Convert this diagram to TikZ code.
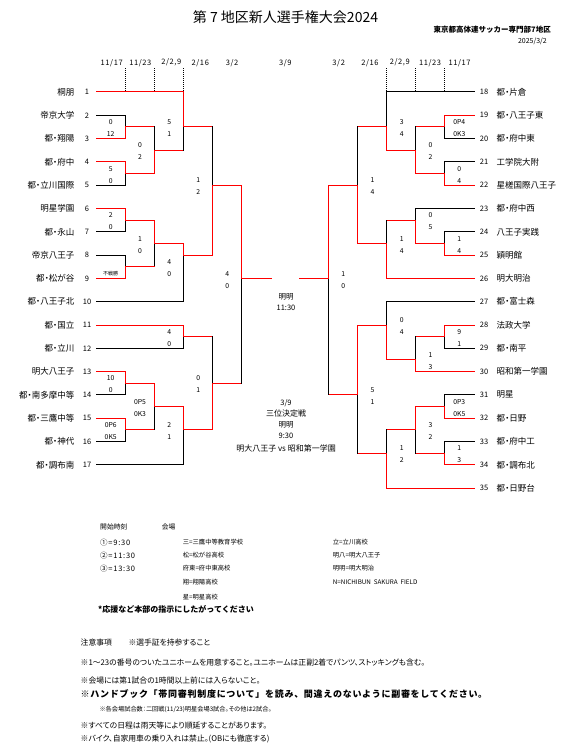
\documentclass[tikz,border=0pt]{standalone}
\usepackage{fontspec}
\setmainfont{Noto Sans CJK JP}
\newfontfamily\jpls[LetterSpace=8]{Noto Sans CJK JP}
\newfontfamily\jpp[RawFeature=+palt]{Noto Sans CJK JP}
\newcommand\yy[1]{92+11.65*#1}
\tikzset{
  ln/.style={line width=1pt, line cap=rect},
  win/.style={ln, draw=red},
  lose/.style={ln, draw=black},
  dotln/.style={line width=0.8pt, dash pattern=on 1pt off 1pt},
  tname/.style={font=\jpp\fontsize{8.5}{9}\selectfont, inner sep=0pt},
  tnum/.style={font=\fontsize{7.5}{8}\selectfont, inner sep=0pt},
  sc/.style={font=\fontsize{6.8}{7}\selectfont, inner sep=0pt},
  tiny/.style={font=\fontsize{5}{5}\selectfont, inner sep=0pt},
  datef/.style={font=\jpls\fontsize{7.5}{8}\selectfont, inner sep=0pt},
  ctr/.style={font=\fontsize{7.5}{8}\selectfont, inner sep=0pt},
  ctrb/.style={font=\fontsize{8}{9}\selectfont, inner sep=0pt},
  leg/.style={font=\fontsize{6.3}{7}\selectfont, inner sep=0pt, anchor=west},
  legh/.style={font=\fontsize{6.8}{7}\selectfont, inner sep=0pt, anchor=west},
  legt/.style={font=\fontsize{7.5}{8}\selectfont\addfontfeature{LetterSpace=10}, inner sep=0pt, anchor=west},
  note/.style={font=\jpp\fontsize{7.8}{8}\selectfont, inner sep=0pt, anchor=west},
}
\begin{document}
\begin{tikzpicture}[x=1pt,y=-1pt]
\useasboundingbox (0,0) rectangle (571,754);

% ---------- header ----------
\node[inner sep=0pt, font=\fontsize{14}{15}\selectfont] (title) at (285.5,16.7) {第 7 地区新人選手権大会2024};
\node[inner sep=0pt, anchor=east, font=\bfseries\fontsize{7.5}{8}\selectfont] (org) at (551,30) {東京都高体連サッカー専門部7地区};
\node[inner sep=0pt, anchor=east, font=\fontsize{7}{8}\selectfont] (date) at (547,41.7) {2025/3/2};

\node[datef] (d1) at (111.7,62.7) {11/17};
\node[datef] (d2) at (140.3,62.7) {11/23};
\node[datef] (d3) at (171.3,62.7) {2/2,9};
\node[datef] (d4) at (200.3,62.7) {2/16};
\node[datef] (d5) at (232,62.7) {3/2};
\node[datef] (d6) at (285.3,62.7) {3/9};
\node[datef] (d7) at (338.7,62.7) {3/2};
\node[datef] (d8) at (370,62.7) {2/16};
\node[datef] (d9) at (399.7,62.7) {2/2,9};
\node[datef] (d10) at (430,62.7) {11/23};
\node[datef] (d11) at (459.5,62.7) {11/17};

\foreach \xx in {125.3,154.5,183.5,386.2,415.3,444.6}
  \draw[dotln] (\xx,68.5) -- (\xx,92);

% ---------- left teams ----------
\foreach \nm/\e/\cc [count=\i from 0] in {桐朋/183.5/red, 帝京大学/125.3/black, 都・翔陽/125.3/red, 都・府中/125.3/red, 都・立川国際/125.3/black, 明星学園/125.3/red, 都・永山/125.3/black, 帝京八王子/125.3/black, 都・松が谷/125.3/red, 都・八王子北/183.5/black, 都・国立/183.5/red, 都・立川/183.5/black, 明大八王子/125.3/red, 都・南多摩中等/125.3/black, 都・三鷹中等/125.3/red, 都・神代/125.3/black, 都・調布南/183.5/black}{
  \pgfmathtruncatemacro\k{\i+1}
  \pgfmathsetmacro\yv{92+23.3*\i}
  \draw[ln, draw=\cc] (96,\yv) -- (\e,\yv);
  \node[tnum] (nL\k) at (87,\yv) {\k};
  \node[tname, anchor=east] (tL\k) at (74.5,\yv) {\nm};
}

% ---------- right teams ----------
\foreach \nm/\e/\cc [count=\i from 0] in {都・片倉/386.2/black, 都・八王子東/444.6/red, 都・府中東/444.6/black, 工学院大附/444.6/black, 星槎国際八王子/444.6/red, 都・府中西/415.3/black, 八王子実践/444.6/black, 穎明館/444.6/red, 明大明治/386.2/red, 都・富士森/386.2/black, 法政大学/444.6/red, 都・南平/444.6/black, 昭和第一学園/415.3/red, 明星/444.6/black, 都・日野/444.6/red, 都・府中工/444.6/black, 都・調布北/444.6/red, 都・日野台/386.2/red}{
  \pgfmathtruncatemacro\k{\i+18}
  \pgfmathsetmacro\yv{92+23.3*\i}
  \draw[ln, draw=\cc] (474,\yv) -- (\e,\yv);
  \node[tnum] (nR\k) at (484,\yv) {\k};
  \node[tname, anchor=west] (tR\k) at (496.5,\yv) {\nm};
}

% ---------- matches ----------
\foreach \x/\nx/\t/\b/\j/\ct/\cb/\sx/\sa/\sb [count=\q] in {
125.3/154.5/2/4/3/black/red/110.7/0/12,
125.3/154.5/6/8/7/red/black/110.7/5/0,
125.3/154.5/10/12/11/red/black/110.7/2/0,
125.3/154.5/24/26/25/red/black/110.7/10/0,
125.3/154.5/28/30/29/red/black/110.7/0P6/0K5,
154.5/183.5/3/7/5/black/red/140/0/2,
154.5/183.5/11/15/13/red/black/140/1/0,
154.5/183.5/25/29/27/red/black/140/0P5/0K3,
183.5/212.6/0/5/3/red/black/169.2/5/1,
183.5/212.6/20/22/21/red/black/169.2/4/0,
183.5/212.6/27/32/29/red/black/169.2/2/1,
212.6/241.7/3/14/8/black/red/198.2/1/2,
212.6/241.7/21/29/25/black/red/198.2/0/1,
241.7/271.7/8/25/16/red/black/227.2/4/0,
444.6/415.3/2/4/3/red/black/459.3/0P4/0K3,
444.6/415.3/6/8/7/black/red/459.3/0/4,
444.6/415.3/12/14/13/black/red/459.3/1/4,
444.6/415.3/20/22/21/red/black/459.3/9/1,
444.6/415.3/26/28/27/black/red/459.3/0P3/0K5,
444.6/415.3/30/32/31/black/red/459.3/1/3,
415.3/386.2/3/7/5/black/red/430.5/0/2,
415.3/386.2/10/13/11/black/red/430.5/0/5,
415.3/386.2/21/24/23/black/red/430.5/1/3,
415.3/386.2/27/31/29/red/black/430.5/3/2,
386.2/357.6/0/5/3/black/red/401.8/3/4,
386.2/357.6/11/16/13/black/red/401.8/1/4,
386.2/357.6/18/23/20/black/red/401.8/0/4,
386.2/357.6/29/34/31/black/red/401.8/1/2,
357.6/328.6/3/13/8/black/red/372.6/1/4,
357.6/328.6/20/31/26/red/black/372.6/5/1,
328.6/299/8/26/16/red/black/343.3/1/0}{
  \draw[ln, draw=\ct] (\x,\yy{\t}) -- (\x,\yy{\j});
  \draw[ln, draw=\cb] (\x,\yy{\j}) -- (\x,\yy{\b});
  \draw[win] (\x,\yy{\j}) -- (\nx,\yy{\j});
  \node[sc] (sa\q) at (\sx,\yy{\j}-4.7) {\sa};
  \node[sc] (sb\q) at (\sx,\yy{\j}+7.2) {\sb};
}
% special: 8 v 9 (walkover)
\draw[lose] (125.3,\yy{14}) -- (125.3,\yy{15});
\draw[win] (125.3,\yy{15}) -- (125.3,\yy{16});
\draw[win] (125.3,\yy{15}) -- (154.5,\yy{15});
\node[tiny] (wo) at (110.7,\yy{15}+6.5) {不戦勝};
% special: 6-9 winner v 10
\draw[win] (183.5,\yy{13}) -- (183.5,\yy{14});
\draw[lose] (183.5,\yy{14}) -- (183.5,\yy{18});
\draw[win] (183.5,\yy{14}) -- (212.6,\yy{14});
\node[sc] (sx1) at (169.2,262.3) {4};
\node[sc] (sx2) at (169.2,274) {0};

% ---------- centre texts ----------
\node[ctr] (f1) at (286,297.3) {明明};
\node[ctr] (f2) at (286,308.3) {11:30};
\node[ctr] (p1) at (286,402.7) {3/9};
\node[ctrb] (p2) at (286,413.5) {三位決定戦};
\node[ctr] (p3) at (286,425) {明明};
\node[ctr] (p4) at (286,436.2) {9:30};
\node[ctrb] (p5) at (286,448.3) {明大八王子 vs 昭和第一学園};

% ---------- legend ----------
\node[legh] (lg1) at (100,526.7) {開始時刻};
\node[legh] (lg2) at (161.7,526.7) {会場};
\node[legt] (tm1) at (100,542.3) {①=9:30};
\node[legt] (tm2) at (100,555.3) {②=11:30};
\node[legt] (tm3) at (100,568.5) {③=13:30};
\node[leg] (v1) at (182.7,542.3) {三=三鷹中等教育学校};
\node[leg] (v2) at (182.7,555.3) {松=松が谷高校};
\node[leg] (v3) at (182.7,568.5) {府東=府中東高校};
\node[leg] (v4) at (182.7,582) {翔=翔陽高校};
\node[leg] (v5) at (182.7,597) {星=明星高校};
\node[leg] (v6) at (332.7,542.3) {立=立川高校};
\node[leg] (v7) at (332.7,555.3) {明八=明大八王子};
\node[leg] (v8) at (332.7,568.5) {明明=明大明治};
\node[leg] (v9) at (332.7,582) {N=NICHIBUN\ \ SAKURA\ \ FIELD};
\node[inner sep=0pt, anchor=west, font=\bfseries\fontsize{8}{9}\selectfont] (cheer) at (98,609.5) {*応援など本部の指示にしたがってください};

% ---------- notes ----------
\node[note] (n0) at (80.5,642.7) {注意事項};
\node[note] (n1) at (128.3,642.7) {※選手証を持参すること};
\node[note] (n2) at (80.5,662.3) {※1～23の番号のついたユニホームを用意すること。ユニホームは正副2着でパンツ、ストッキングも含む。};
\node[note] (n3) at (80.5,680.7) {※会場には第1試合の1時間以上前には入らないこと。};
\node[inner sep=0pt, anchor=west, font=\bfseries\fontsize{9}{10}\selectfont\addfontfeature{LetterSpace=8}] (n4) at (80.5,694.5) {※ハンドブック「帯同審判制度について」を読み、間違えのないように副審をしてください。};
\node[inner sep=0pt, anchor=west, font=\jpp\fontsize{6.2}{7}\selectfont] (n5) at (99.3,709.3) {※各会場試合数：二回戦(11/23)明星会場3試合。その他は2試合。};
\node[note] (n6) at (80.5,726) {※すべての日程は雨天等により順延することがあります。};
\node[note] (n7) at (80.5,739.3) {※バイク、自家用車の乗り入れは禁止。(OBにも徹底する)};
\end{tikzpicture}
\end{document}
